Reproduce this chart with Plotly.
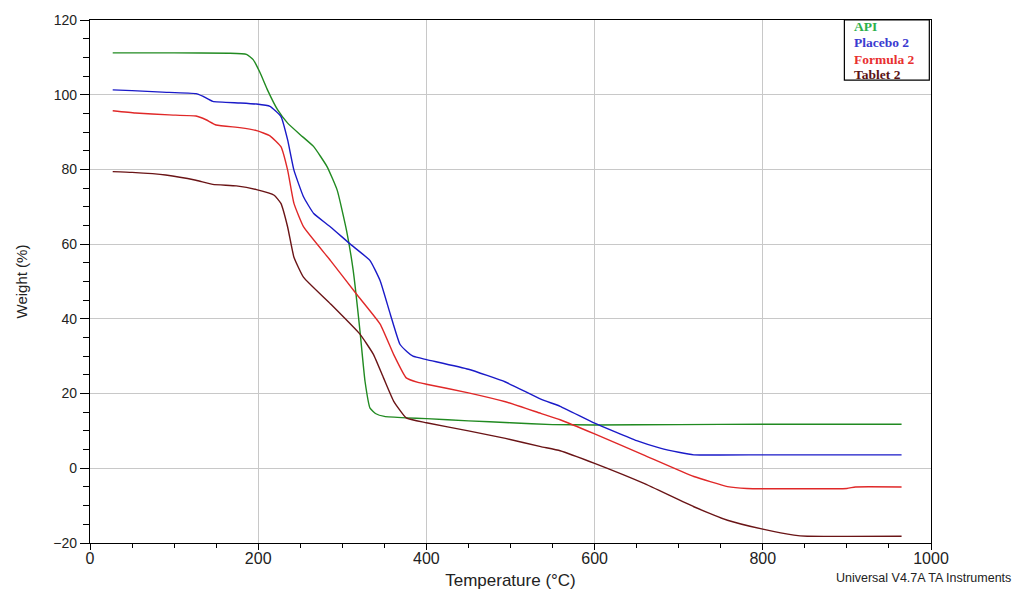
import plotly.graph_objects as go

# ---- data ----
api_t = [27, 100, 165, 186, 194, 202, 211, 223, 235, 250, 266, 282, 294, 305, 313, 321, 327, 333, 340, 350, 376, 400, 450, 500, 550, 600, 700, 800, 900, 965]
api_w = [111.2, 111.2, 111.1, 110.8, 109.4, 106.0, 101.3, 96.0, 92.4, 89.3, 86.1, 80.7, 74.4, 63.7, 52.9, 36.8, 23.3, 16.1, 14.6, 13.9, 13.5, 13.3, 12.7, 12.2, 11.7, 11.6, 11.7, 11.8, 11.8, 11.8]

placebo_t = [27, 50, 86, 126, 134, 146, 178, 198, 214, 227, 235, 242.5, 254, 266, 286, 309.5, 333, 345, 357, 368.5, 377, 384, 400, 450, 494, 536, 559, 600, 650, 678, 700, 718, 800, 900, 965]
placebo_w = [101.3, 101.1, 100.7, 100.3, 99.6, 98.2, 97.8, 97.5, 96.9, 94.2, 87.9, 79.8, 72.6, 68.2, 64.6, 60.0, 55.6, 50.2, 41.3, 33.2, 31.2, 30.0, 29.1, 26.5, 23.1, 18.5, 16.6, 12.1, 7.4, 5.4, 4.3, 3.6, 3.6, 3.6, 3.6]

formula_t = [27, 54, 94, 126, 138, 150, 178, 198, 214, 227, 235, 242.5, 254, 286, 317, 345, 361, 376, 390, 400, 450, 494, 536, 559, 600, 658, 718, 758, 781, 900, 910, 965]
formula_w = [95.7, 95.1, 94.6, 94.3, 93.3, 91.9, 91.2, 90.4, 89.0, 86.1, 79.8, 70.9, 64.6, 55.6, 46.6, 38.6, 30.5, 24.2, 23.0, 22.5, 20.2, 17.8, 14.7, 13.0, 9.2, 3.6, -2.2, -4.9, -5.4, -5.4, -5.0, -5.0]

tablet_t = [27, 50, 90, 126, 146, 174, 198, 219, 227, 235, 242.5, 254, 286, 321, 337, 349, 361, 376, 400, 450, 494, 536, 559, 600, 658, 718, 758, 800, 837, 853, 965]
tablet_w = [79.4, 79.2, 78.5, 77.1, 76.0, 75.6, 74.6, 73.1, 70.9, 64.6, 56.5, 51.1, 44.0, 35.9, 30.5, 24.2, 18.0, 13.5, 12.2, 10.0, 8.0, 5.8, 4.7, 1.3, -4.0, -10.3, -13.9, -16.3, -17.9, -18.2, -18.2]

series_names = ["API", "Placebo 2", "Formula 2", "Tablet 2"]
line_colors = ["#218a21", "#1a1ac8", "#e02828", "#6a1416"]
text_colors = ["#2db04a", "#3a3ad0", "#e83030", "#5a1214"]

x_ticks = [0, 200, 400, 600, 800, 1000]
y_ticks = [-20, 0, 20, 40, 60, 80, 100, 120]

fig = go.Figure()
for name, t, w, c in zip(series_names,
                         [api_t, placebo_t, formula_t, tablet_t],
                         [api_w, placebo_w, formula_w, tablet_w],
                         line_colors):
    fig.add_trace(go.Scatter(x=t, y=w, mode="lines", name=name,
                             line=dict(color=c, width=1.4, shape="spline", smoothing=0.4)))

sans = "Liberation Sans, Arial"

fig.update_layout(
    width=1023, height=592,
    margin=dict(l=82, r=100, t=12, b=57),
    paper_bgcolor="white", plot_bgcolor="white",
    showlegend=False,
    xaxis=dict(range=[0, 1000], tickvals=x_ticks, ticks="outside", ticklen=6, tickcolor="black",
               showline=True, linecolor="black", linewidth=1.2, mirror=True,
               showgrid=True, gridcolor="#c8c8c8", gridwidth=1, zeroline=False,
               tickfont=dict(family=sans, size=16, color="#222"), automargin=False,
               ticklabelstandoff=-5,
               minor=dict(dtick=50, ticks="outside", ticklen=4, tickcolor="black", showgrid=False),
               title=dict(text="Temperature (°C)", font=dict(family=sans, size=17, color="#222"), standoff=7)),
    yaxis=dict(range=[-20, 120], tickvals=y_ticks, ticks="outside", ticklen=9, tickcolor="black",
               showline=True, linecolor="black", linewidth=1.2, mirror=True,
               showgrid=True, gridcolor="#c8c8c8", gridwidth=1, zeroline=False,
               tickfont=dict(family=sans, size=14, color="#222"), automargin=False,
               minor=dict(dtick=5, ticks="outside", ticklen=6, tickcolor="black", showgrid=False),
               title=dict(text="Weight (%)", font=dict(family=sans, size=15, color="#222"), standoff=22)),
)

# legend box (text only, as in the reference)
fig.add_shape(type="rect", xref="paper", yref="paper", x0=0.897, x1=0.998, y0=0.885, y1=1.0,
              line=dict(color="black", width=1.2), fillcolor="white", layer="above")
legend_y = [0.9885, 0.9574, 0.9249, 0.8967]
for name, c, yy in zip(series_names, text_colors, legend_y):
    fig.add_annotation(xref="paper", yref="paper", x=0.906, y=yy,
                       xanchor="left", yanchor="middle", showarrow=False, text="<b>%s</b>" % name,
                       font=dict(family="Liberation Serif, Times New Roman", size=13.5, color=c))

fig.add_annotation(xref="paper", yref="paper", x=1.098, y=-0.067, xanchor="right", yanchor="middle",
                   showarrow=False, text="Universal V4.7A TA Instruments",
                   font=dict(family=sans, size=12.5, color="#222"))

fig.write_html("out.html")
